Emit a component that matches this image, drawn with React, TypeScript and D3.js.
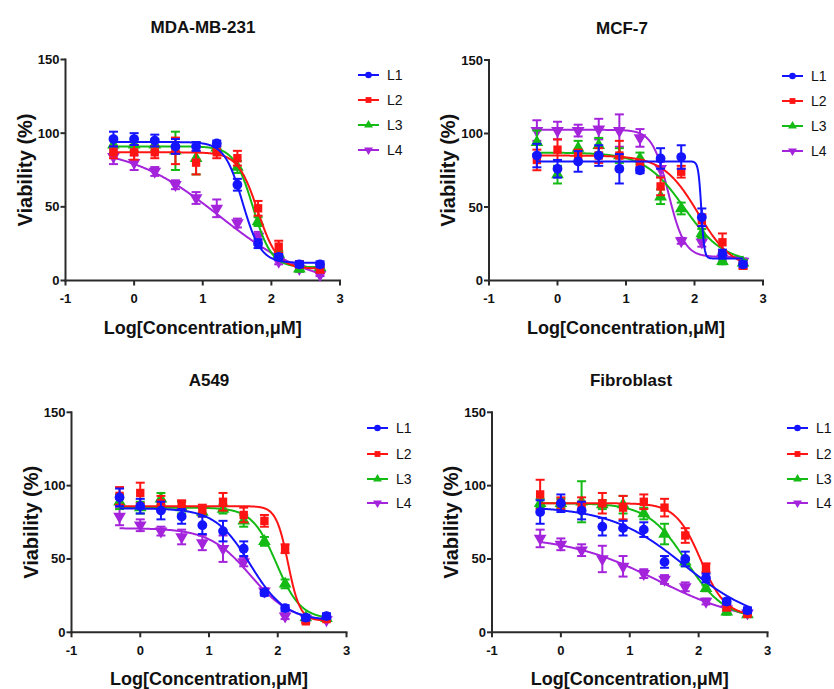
import React from "react";
import * as d3 from "d3";

// ---------- data ----------
const logConc = [-0.301, 0, 0.301, 0.602, 0.903, 1.204, 1.505, 1.806, 2.107, 2.408, 2.709];
const seriesNames = ["L1", "L2", "L3", "L4"];
const panelTitles = ["MDA-MB-231", "MCF-7", "A549", "Fibroblast"];
const xTicks = [-1, 0, 1, 2, 3];
const yTicks = [0, 50, 100, 150];
const xLabel = "Log[Concentration,\u03BCM]";
const yLabel = "Viability (%)";

// means (L1..L4) per panel
const mdaMean = [
  [96, 96, 95, 91, 91, 93, 65, 25, 16, 11, 11],
  [87, 87, 87, 88, 80, 87, 83, 49, 23, 11, 7.5],
  [92, 92, 92, 88, 83, 90, 77, 40, 18, 8, 9],
  [84, 80, 74, 65, 56, 49, 39, 30, 13, 8, 4],
];
const mdaErr = [
  [5, 4, 4, 5, 3, 2, 4, 3, 2, 2, 2],
  [4, 5, 4, 9, 8, 4, 5, 5, 4, 2, 2],
  [5, 4, 4, 13, 11, 3, 4, 3, 2, 2, 2],
  [5, 5, 3, 3, 4, 6, 3, 3, 2, 2, 1],
];
// fit parameters: top, bottom, logEC50, hill
const mdaFit = [
  [94, 12, 1.58, 3.3],
  [87, 8, 1.8, 3.0],
  [91, 9, 1.73, 3.2],
  [92, -5, 1.25, 0.65],
];

const mcfMean = [
  [85, 76, 81, 85, 76, 75, 83, 84, 43, 18, 11],
  [82, 89, 85, 85, 85, 79, 64, 74, 41, 26, 10],
  [94, 72, 90, 92, 85, 83, 57, 49, 32, 13, 12],
  [102, 102, 102, 103, 102, 97, 76, 27, 26, 15, 13],
];
const mcfErr = [
  [8, 6, 7, 7, 10, 2, 7, 8, 6, 3, 2],
  [7, 7, 4, 5, 10, 3, 6, 4, 4, 6, 2],
  [8, 6, 5, 5, 5, 4, 5, 4, 3, 2, 2],
  [7, 6, 4, 7, 11, 6, 5, 2, 3, 2, 2],
];
const mcfFit = [
  [81, 15, 2.1, 20],
  [85, 7, 2.05, 1.7],
  [87, 12, 1.85, 1.5],
  [102.5, 16, 1.62, 3.7],
];

const a549Mean = [
  [92, 86, 83, 79, 73, 69, 57, 27, 16.5, 10, 11],
  [93, 95, 88, 87, 83, 89, 80, 76, 57, 7.5, 9],
  [89, 85, 91, 85, 82, 84, 76, 62, 33, 10, 9.5],
  [79, 73, 69, 65, 61, 57, 48, 28, 11, 9.5, 8.5],
];
const a549Err = [
  [6, 5, 6, 5, 6, 7, 5, 2, 2, 2, 2],
  [6, 7, 5, 3, 4, 6, 5, 4, 3, 1, 1],
  [5, 4, 4, 4, 3, 3, 4, 3, 3, 1, 1],
  [6, 4, 3, 5, 5, 9, 3, 2, 2, 1, 1],
];
const a549Fit = [
  [84.5, 8, 1.6, 1.7],
  [86, 8, 2.15, 5],
  [85, 9, 1.98, 2.45],
  [71, 7, 1.6, 1.45],
];

const fibMean = [
  [82, 88, 83, 72, 71, 70, 48, 50, 37, 21, 15],
  [94, 88, 87, 88, 85, 89, 85, 66, 44, 17, 12.5],
  [88, 88, 89, 87, 87, 81, 67, 48, 30, 14, 12],
  [64, 60, 56, 50, 45, 40, 36, 31, 21, 16, 13],
];
const fibErr = [
  [8, 6, 6, 6, 5, 5, 4, 5, 3, 2, 2],
  [10, 4, 5, 7, 8, 5, 6, 5, 3, 2, 1],
  [3, 3, 14, 3, 6, 4, 7, 3, 2, 2, 1],
  [6, 4, 4, 9, 7, 3, 3, 3, 2, 2, 1],
];
const fibFit = [
  [86, 5, 1.8, 0.8],
  [88, 11, 2.03, 2.4],
  [88, 9, 1.82, 1.55],
  [66, 5, 1.4, 0.65],
];

// ---------- styling / layout ----------
const colors = ["#1414ff", "#ff1414", "#14bb14", "#a424dc"];
const symbols = [d3.symbolCircle, d3.symbolSquare, d3.symbolTriangle, d3.symbolTriangle];
const rotations = [0, 0, 0, 180];
const FONT = "'Liberation Sans', Arial, Helvetica, sans-serif";

const panels = [
  { title: panelTitles[0], mean: mdaMean, err: mdaErr, fit: mdaFit,
    x0: 65.5, x1: 340, yTop: 59.5, yBot: 280.5, titleX: 203, legX: 358, legYs: [75, 100, 125, 150] },
  { title: panelTitles[1], mean: mcfMean, err: mcfErr, fit: mcfFit,
    x0: 489, x1: 763, yTop: 60, yBot: 280.5, titleX: 622, legX: 782, legYs: [76, 101, 126, 151] },
  { title: panelTitles[2], mean: a549Mean, err: a549Err, fit: a549Fit,
    x0: 71.5, x1: 346.5, yTop: 412.3, yBot: 632.3, titleX: 209, legX: 367, legYs: [428, 454, 479, 503] },
  { title: panelTitles[3], mean: fibMean, err: fibErr, fit: fibFit,
    x0: 492, x1: 767.5, yTop: 412.3, yBot: 632.3, titleX: 631, legX: 787, legYs: [428, 454, 479, 503] },
];

function fourPL(p: number[], x: number) {
  const [top, bottom, ec50, hill] = p;
  return bottom + (top - bottom) / (1 + Math.pow(10, (x - ec50) * hill));
}

function Panel({ cfg }: { cfg: any }) {
  const x = d3.scaleLinear().domain([-1, 3]).range([cfg.x0, cfg.x1]);
  const y = d3.scaleLinear().domain([0, 150]).range([cfg.yBot, cfg.yTop]);
  const xmin = logConc[0];
  const xmax = logConc[logConc.length - 1];
  const samples = d3.range(0, 401).map((i) => xmin + ((xmax - xmin) * i) / 400);
  const line = d3.line<number[]>().x((d) => x(d[0])).y((d) => y(d[1]));
  const axisColor = "#2a2a2a";
  const order = [3, 2, 1, 0];
  const cx = (cfg.x0 + cfg.x1) / 2;
  const cy = (cfg.yTop + cfg.yBot) / 2;
  return (
    <g>
      <text x={cfg.titleX} y={cfg.yTop - 26.5} textAnchor="middle" fontFamily={FONT}
        fontWeight="bold" fontSize={17} fill="#111">{cfg.title}</text>
      {/* y axis */}
      <line x1={cfg.x0} x2={cfg.x0} y1={y(150) - 1} y2={y(0) + 1} stroke={axisColor} strokeWidth={2} />
      {yTicks.map((t) => (
        <g key={"yt" + t}>
          <line x1={cfg.x0 - 5} x2={cfg.x0} y1={y(t)} y2={y(t)} stroke={axisColor} strokeWidth={2} />
          <text x={cfg.x0 - 6} y={y(t) + 4.5} textAnchor="end" fontFamily={FONT} fontWeight="bold"
            fontSize={13} fill="#111">{t}</text>
        </g>
      ))}
      {/* x axis */}
      <line x1={cfg.x0 - 1} x2={x(3) + 1} y1={y(0)} y2={y(0)} stroke={axisColor} strokeWidth={2} />
      {xTicks.map((t) => (
        <g key={"xt" + t}>
          <line x1={x(t)} x2={x(t)} y1={y(0)} y2={y(0) + 5} stroke={axisColor} strokeWidth={2} />
          <text x={x(t)} y={y(0) + 22.5} textAnchor="middle" fontFamily={FONT} fontWeight="bold"
            fontSize={13} fill="#111">{t}</text>
        </g>
      ))}
      <text x={cx} y={y(0) + 53} textAnchor="middle" fontFamily={FONT} fontWeight="bold"
        fontSize={18} fill="#111">{xLabel}</text>
      <text transform={`translate(${cfg.x0 - 41},${cy}) rotate(-90)`} x={0} y={0} dy="0.35em"
        textAnchor="middle" fontFamily={FONT} fontWeight="bold" fontSize={20} fill="#111">{yLabel}</text>
      {/* series */}
      {order.map((s) => {
        const curve = samples.map((xx) => [xx, fourPL(cfg.fit[s], xx)]);
        const sym = d3.symbol().type(symbols[s]).size(s === 0 ? 75 : 70)();
        return (
          <g key={"s" + s}>
            <path d={line(curve) || ""} fill="none" stroke={colors[s]} strokeWidth={2} />
            {logConc.map((lx, i) => {
              const m = cfg.mean[s][i];
              const e = cfg.err[s][i];
              const px = x(lx);
              return (
                <g key={i}>
                  <line x1={px} x2={px} y1={y(m - e)} y2={y(m + e)} stroke={colors[s]} strokeWidth={2} />
                  <line x1={px - 4.5} x2={px + 4.5} y1={y(m + e)} y2={y(m + e)} stroke={colors[s]} strokeWidth={2} />
                  <line x1={px - 4.5} x2={px + 4.5} y1={y(m - e)} y2={y(m - e)} stroke={colors[s]} strokeWidth={2} />
                  <path d={sym || ""} transform={`translate(${px},${y(m)}) rotate(${rotations[s]})`}
                    fill={colors[s]} />
                </g>
              );
            })}
          </g>
        );
      })}
      {/* legend */}
      {seriesNames.map((n, s) => {
        const ly = cfg.legYs[s];
        const sym = d3.symbol().type(symbols[s]).size(34)();
        return (
          <g key={"lg" + s}>
            <line x1={cfg.legX} x2={cfg.legX + 21} y1={ly} y2={ly} stroke={colors[s]} strokeWidth={2} />
            <path d={sym || ""} transform={`translate(${cfg.legX + 10.5},${ly}) rotate(${rotations[s]})`}
              fill={colors[s]} />
            <text x={cfg.legX + 29} y={ly + 5} fontFamily={FONT} fontSize={14} fill="#111">{n}</text>
          </g>
        );
      })}
    </g>
  );
}

export default function App() {
  return (
    <svg width={834} height={689} style={{ position: "absolute", left: 0, top: 0, background: "#fff" }}>
      <rect x={0} y={0} width={834} height={689} fill="#fff" />
      {panels.map((p, i) => (
        <Panel key={i} cfg={p} />
      ))}
    </svg>
  );
}
